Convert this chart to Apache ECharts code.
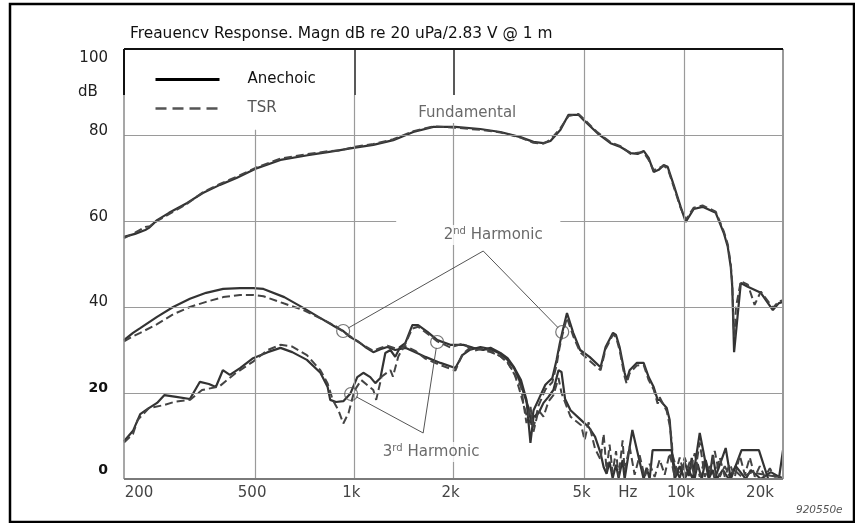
<!DOCTYPE html>
<html><head><meta charset="utf-8">
<style>html,body{margin:0;padding:0;background:#fff}#c{width:855px;height:523px}</style>
<script src="https://cdn.jsdelivr.net/npm/echarts@6/dist/echarts.min.js"></script>
</head><body><div id="c"></div>
<script>
// ---------- data (frequency in Hz, level in dB) ----------
const xTickValues = [200, 500, 1000, 2000, 5000, 6900, 10000, 20000];
const xTickLabels = ['200', '500', '1k', '2k', '5k', 'Hz', '10k', '20k'];
const yTickValues = [0, 20, 40, 60, 80, 100];
const yTickLabels = ['0', '20', '40', '60', '80', '100'];

const fundAnechoic = [[200,56.3],[216,57.0],[232,57.9],[238,58.4],[252,60.2],[274,61.9],[311,64.2],[347,66.5],[391,68.4],[439,70.0],[507,72.3],[597,74.2],[722,75.3],[830,76.0],[906,76.5],[993,77.0],[1142,77.7],[1313,78.8],[1510,80.7],[1737,81.9],[2024,81.9],[2410,81.4],[2776,80.7],[3193,79.5],[3497,78.4],[3750,78.1],[3938,78.6],[4224,81.2],[4467,84.7],[4791,84.7],[4963,83.5],[5472,80.4],[5993,78.1],[6427,77.2],[6896,75.8],[7241,75.6],[7553,76.3],[7822,74.7],[8100,71.4],[8389,71.9],[8687,73.0],[8934,72.6],[9316,68.4],[9783,63.3],[10134,59.8],[10720,62.8],[11400,63.3],[12500,61.9],[13223,57.2],[13596,54.0],[13884,49.3],[14030,44.7],[14210,29.5],[14894,45.6],[15640,44.7],[17130,43.3],[18630,39.3],[19430,40.9],[20000,41.2]];
const fundTSR = [[200,56.0],[216,57.3],[232,58.6],[240,58.8],[252,60.0],[274,61.6],[311,64.0],[347,66.7],[391,68.6],[439,70.3],[507,72.5],[597,74.5],[722,75.6],[830,76.2],[906,76.4],[993,77.2],[1142,77.9],[1313,79.0],[1510,80.9],[1737,82.0],[2024,81.7],[2410,81.2],[2776,80.6],[3193,79.4],[3497,78.2],[3750,78.0],[3938,78.9],[4224,81.6],[4467,84.4],[4791,84.9],[4963,83.8],[5472,80.6],[5993,78.3],[6427,77.4],[6896,75.6],[7241,75.9],[7553,76.0],[7822,74.2],[8100,71.8],[8389,72.3],[8687,72.8],[8934,72.2],[9316,68.0],[9783,63.0],[10134,60.3],[10720,63.1],[11400,63.6],[12500,62.2],[13223,57.6],[13596,54.6],[13884,50.0],[14030,45.5],[14150,36.0],[14250,33.0],[14400,40.0],[14894,46.0],[15640,45.2],[16400,40.5],[17130,43.6],[18630,39.8],[19430,41.3],[20000,41.6]];

const h2Anechoic = [[200,32.3],[213,34.0],[224,35.1],[252,37.7],[282,40.0],[317,41.9],[355,43.3],[400,44.2],[450,44.4],[493,44.4],[530,44.2],[613,42.3],[700,39.8],[778,37.7],[880,35.3],[926,34.4],[972,33.0],[1021,32.1],[1079,30.7],[1142,29.5],[1200,30.2],[1260,30.7],[1331,30.0],[1428,30.5],[1532,29.5],[1643,28.4],[1825,27.0],[2026,25.8],[2128,28.8],[2235,30.0],[2413,30.7],[2590,30.2],[2776,29.1],[2918,27.7],[3053,25.8],[3150,23.5],[3260,20.2],[3380,16.5],[3450,12.6],[3500,16.0],[3620,18.4],[3800,21.9],[3990,23.5],[4110,27.7],[4195,31.2],[4280,34.2],[4420,38.6],[4618,34.0],[4845,30.0],[5175,28.4],[5590,26.0],[5790,30.7],[6097,34.0],[6227,33.5],[6384,30.7],[6612,24.7],[6705,23.0],[6848,25.3],[7194,27.0],[7553,27.0],[7822,23.7],[8100,21.4],[8330,18.4],[8448,18.4],[8875,16.5],[9060,13.7],[9188,7.4],[9250,4.4],[9450,2.1],[9717,0.3],[10063,4.0],[10350,0.7],[10570,4.9],[10792,0.2],[11020,3.5],[11330,0],[11650,4.4],[11987,0.7],[12240,5.6],[12590,0],[13130,2.1],[13690,0],[14380,3.0],[15420,0],[15970,2.1],[17130,0],[18370,1.6],[20000,0]];
const h2TSR = [[200,32.0],[213,33.2],[224,34.0],[252,36.0],[282,38.3],[317,40.0],[355,41.2],[400,42.3],[450,42.8],[493,42.8],[530,42.5],[613,40.8],[700,39.3],[778,37.6],[880,35.5],[926,34.2],[972,33.2],[1021,32.0],[1079,30.9],[1142,29.8],[1200,30.5],[1260,31.0],[1331,30.4],[1428,30.9],[1532,29.8],[1643,28.0],[1825,26.5],[2026,25.2],[2128,29.0],[2235,30.4],[2413,30.2],[2590,29.5],[2776,28.6],[2918,27.0],[3053,24.8],[3150,21.5],[3260,17.5],[3380,13.0],[3450,15.0],[3500,12.0],[3620,17.0],[3800,20.8],[3990,22.5],[4110,26.5],[4195,30.5],[4280,33.5],[4420,37.5],[4618,33.2],[4845,29.5],[5175,27.5],[5590,25.3],[5790,30.2],[6097,33.6],[6227,33.0],[6384,30.0],[6612,23.8],[6705,22.2],[6848,24.6],[7194,26.4],[7553,26.5],[7822,23.0],[8100,20.8],[8330,17.5],[8448,19.0],[8875,15.8],[9060,12.5],[9188,9.0],[9250,5.5],[9450,3.0],[9717,1.0],[10063,5.0],[10421,1.5],[10792,6.0],[11177,0.5],[11575,4.5],[11987,1.0],[12414,6.5],[12857,0.5],[13315,3.0],[13789,0.5],[14281,2.0],[15000,0.5],[16000,1.5],[20000,0.3]];

const h3Anechoic = [[200,8.8],[213,11.2],[224,15.1],[236,16.3],[252,17.7],[265,19.5],[288,19.1],[317,18.6],[340,22.6],[362,22.1],[380,21.4],[399,25.3],[419,24.2],[450,25.8],[493,28.1],[546,29.5],[597,30.5],[648,29.5],[718,27.7],[789,24.7],[830,21.4],[845,18.4],[880,17.9],[926,18.1],[972,19.8],[1021,23.7],[1065,24.7],[1118,23.7],[1158,22.3],[1200,23.5],[1242,29.3],[1287,30.0],[1331,28.4],[1378,30.7],[1428,31.6],[1500,35.8],[1562,35.8],[1667,34.2],[1787,32.3],[1956,31.2],[2143,31.2],[2298,30.5],[2465,30.0],[2590,30.5],[2776,29.3],[2918,28.1],[3053,26.0],[3205,23.0],[3330,18.4],[3424,8.4],[3497,14.4],[3623,15.3],[3751,17.7],[3883,19.1],[4020,20.7],[4166,25.3],[4254,24.9],[4362,18.6],[4530,16.0],[4880,13.7],[5140,12.1],[5380,9.8],[5590,6.0],[5710,2.8],[5830,1.2],[5953,4.0],[6080,0.2],[6227,3.3],[6340,0.2],[6520,4.4],[6612,0],[6980,11.4],[7553,0],[7710,2.6],[7877,0],[8040,6.7],[9188,6.7],[9382,0],[9717,3.0],[10063,0],[10350,2.1],[10650,0],[11177,10.7],[11900,0],[12240,2.1],[12414,0],[13400,7.2],[13884,0],[14970,6.7],[16900,6.7],[18040,0],[19430,0],[20000,6.7]];
const h3TSR = [[200,8.5],[213,10.5],[220,13.7],[238,16.5],[265,17.2],[286,18.0],[317,18.4],[345,20.7],[389,21.5],[436,24.6],[493,27.3],[546,30.0],[597,31.2],[648,30.8],[718,28.8],[789,25.3],[830,22.2],[860,18.4],[895,16.0],[926,12.9],[960,15.3],[1000,20.5],[1050,23.0],[1142,20.7],[1165,18.4],[1210,23.8],[1287,25.3],[1310,23.8],[1360,28.5],[1420,31.0],[1500,35.0],[1562,35.4],[1667,33.8],[1787,32.0],[1956,30.6],[2143,31.5],[2298,29.8],[2465,30.4],[2590,29.8],[2776,28.5],[2918,27.2],[3053,24.5],[3205,21.5],[3330,13.0],[3424,17.0],[3497,11.0],[3623,16.0],[3751,14.5],[3883,18.0],[4020,19.5],[4166,23.5],[4254,20.0],[4362,17.8],[4530,14.5],[4880,12.5],[5000,9.0],[5140,13.2],[5380,7.0],[5590,4.5],[5710,10.5],[5830,2.0],[5953,8.0],[6080,1.5],[6227,6.5],[6340,0.5],[6520,9.0],[6612,2.0],[6848,7.5],[7092,1.0],[7344,5.5],[7606,0.5],[7877,3.5],[8157,0.5],[8448,4.5],[8749,1.0],[9060,6.0],[9382,0.5],[9717,5.0],[10063,0.5],[10421,4.0],[10792,1.0],[11177,8.5],[11575,0.5],[11987,3.0],[12414,0.5],[12857,5.0],[13315,0.5],[13789,3.5],[14281,0.5],[14789,5.5],[15316,1.0],[15861,5.0],[16425,0.5],[17010,3.0],[17615,0.5],[18243,2.5],[18893,0.5],[20000,0.5]];

// ---------- layout / style ----------
const FONT = '"DejaVu Sans", "Liberation Sans", Arial, sans-serif';
const GRID = {left:124, right:72, top:49, bottom:44};
const pxPerDb = (523 - GRID.top - GRID.bottom) / 100;
const yLabelShiftPx = [9, 5, 5, 4, 4, -9];
const GRAY = '#9a9a9a';
const CURVE = '#333';
const NOFILL = 'rgba(0,0,0,0)';

function nearest(arr, v, log) {
  let best = 0, bd = Infinity;
  arr.forEach((a, i) => { const d = log ? Math.abs(Math.log(a) - Math.log(v)) : Math.abs(a - v); if (d < bd) { bd = d; best = i; } });
  return best;
}

function seg(x1, y1, x2, y2, color, width) {
  return [{coord:[x1, y1], lineStyle:{color:color, width:width, type:'solid'}}, {coord:[x2, y2]}];
}
const gridSegs = [
  seg(200,20,20000,20,GRAY,1.2),
  seg(200,40,20000,40,GRAY,1.2),
  seg(200,60,1340,60,GRAY,1.2),
  seg(4220,60,20000,60,GRAY,1.2),
  seg(200,80,20000,80,GRAY,1.2),
  seg(500,0,500,81.2,GRAY,1.2),
  seg(1000,0,1000,89.3,GRAY,1.2),
  seg(2000,0,2000,82.8,GRAY,1.2),
  seg(5000,0,5000,100,GRAY,1.2),
  seg(10000,0,10000,100,GRAY,1.2),
  seg(20000,0,20000,100,'#999',2),
  seg(200,0,200,89.3,'#8a8a8a',1.5),
  seg(200,0,20000,0,'#7a7a7a',2),
  seg(200,89.3,200,100,'#111',2),
  seg(1000,89.3,1000,100,'#222',1.5),
  seg(2000,89.3,2000,100,'#222',1.5),
  seg(200,100,20000,100,'#111',2)
];

const ANN = '#555';
const annLines = [
  seg(959,35.12,2462,53.02,ANN,1),
  seg(2462,53.02,4153,35.19,ANN,1),
  seg(1015,19.09,1618,10.70,ANN,1),
  seg(1618,10.70,1773,30.49,ANN,1)
];
const annCircles = [[925,34.42],[978,19.77],[1784,31.86],[4276,34.19]];
const annTexts = [
  {value:[2201,85.12], text:'{n|Fundamental}'},
  {value:[2640,56.74], text:'{n|2}{s|nd}{n| Harmonic}'},
  {value:[1711,6.28], text:'{n|3}{s|rd}{n| Harmonic}'}
];

const chart = echarts.init(document.getElementById('c'), null, {renderer:'canvas'});
const lineBase = {type:'line', symbol:'none', showSymbol:false, smooth:false, z:3, silent:true, animation:false};

chart.setOption({
  backgroundColor:'#fff',
  animation:false,
  title:{text:'Freauencv Response. Magn dB re 20 uPa/2.83 V @ 1 m', left:130, top:26, padding:0,
    textStyle:{fontFamily:FONT, fontSize:15.4, fontWeight:'normal', color:'#111'}},
  grid:{left:GRID.left, right:GRID.right, top:GRID.top, bottom:GRID.bottom, containLabel:false},
  legend:{orient:'vertical', left:154, top:72, padding:0, itemWidth:64, itemHeight:16, itemGap:14,
    data:[
      {name:'Anechoic', textStyle:{color:'#111'}, itemStyle:{color:NOFILL, borderColor:NOFILL, borderWidth:0}, lineStyle:{color:'#000', width:3, type:'solid'}},
      {name:'TSR', textStyle:{color:'#555'}, itemStyle:{color:NOFILL, borderColor:NOFILL, borderWidth:0}, lineStyle:{color:'#555', width:2.5, type:[11,6]}}
    ],
    textStyle:{fontFamily:FONT, fontSize:15, padding:[0,0,0,23]}},
  xAxis:{type:'log', logBase:10, min:200, max:20000,
    axisLine:{show:false}, axisTick:{show:false}, splitLine:{show:false}, minorSplitLine:{show:false},
    axisLabel:{show:true, customValues:xTickValues, margin:7, color:'#444', fontFamily:FONT, fontSize:15,
      formatter:function(v){ const i = nearest(xTickValues, v, true); const k = i===0 ? 'f' : (i===xTickValues.length-1 ? 'l' : 'm'); return '{' + k + '|' + xTickLabels[i] + '}'; },
      rich:{
        f:{fontFamily:FONT, fontSize:15, color:'#444', padding:[0,0,0,30]},
        m:{fontFamily:FONT, fontSize:15, color:'#444', padding:[0,6,0,0]},
        l:{fontFamily:FONT, fontSize:15, color:'#444', padding:[0,46,0,0]}
      }}},
  yAxis:{type:'value', min:0, max:100, interval:20,
    axisLine:{show:false}, axisTick:{show:false}, splitLine:{show:false},
    axisLabel:{show:true, margin:16, customValues:yTickValues.map((v,i)=>v + yLabelShiftPx[i]/pxPerDb),
      formatter:function(v){ const i = nearest(yTickValues, v, false); return (yTickValues[i] <= 20 ? '{b|' : '{r|') + yTickLabels[i] + '}'; },
      rich:{
        r:{fontFamily:FONT, fontSize:15, color:'#222'},
        b:{fontFamily:FONT, fontSize:14, color:'#111', fontWeight:'bold'}
      }}},
  graphic:[
    {type:'rect', shape:{x:10, y:4, width:844, height:518}, style:{fill:'none', stroke:'#000', lineWidth:2.5}, silent:true},
    {type:'text', left:78, top:85, style:{text:'dB', fontFamily:FONT, fontSize:15, fill:'#222'}, silent:true},
    {type:'text', left:796, top:505, style:{text:'920550e', fontFamily:FONT, fontSize:10.5, fontStyle:'italic', fill:'#555'}, silent:true}
  ],
  series:[
    {type:'line', name:'grid', data:[], z:1, silent:true, symbol:'none',
      markLine:{silent:true, symbol:['none','none'], label:{show:false}, animation:false, data:gridSegs}},
    Object.assign({}, lineBase, {name:'Anechoic', data:fundAnechoic, itemStyle:{color:CURVE}, lineStyle:{color:CURVE, width:2.2}}),
    Object.assign({}, lineBase, {name:'TSR', data:fundTSR, itemStyle:{color:'#444'}, lineStyle:{color:'#444', width:2, type:[8,4]}}),
    Object.assign({}, lineBase, {name:'Anechoic', data:h2Anechoic, itemStyle:{color:CURVE}, lineStyle:{color:CURVE, width:2.2}}),
    Object.assign({}, lineBase, {name:'TSR', data:h2TSR, itemStyle:{color:'#444'}, lineStyle:{color:'#444', width:2, type:[8,4]}}),
    Object.assign({}, lineBase, {name:'Anechoic', data:h3Anechoic, itemStyle:{color:CURVE}, lineStyle:{color:CURVE, width:2.2}}),
    Object.assign({}, lineBase, {name:'TSR', data:h3TSR, itemStyle:{color:'#444'}, lineStyle:{color:'#444', width:2, type:[8,4]}}),
    {type:'line', name:'annot', data:[], z:4, silent:true, symbol:'none',
      markLine:{silent:true, symbol:['none','none'], label:{show:false}, animation:false, data:annLines}},
    {type:'scatter', name:'circles', data:annCircles, z:5, silent:true, symbol:'circle', symbolSize:13,
      itemStyle:{color:NOFILL, borderColor:ANN, borderWidth:1.2}},
    {type:'scatter', name:'labels', z:6, silent:true, symbolSize:1, itemStyle:{color:NOFILL},
      data:annTexts.map(a=>({value:a.value, label:{formatter:a.text}})),
      label:{show:true, position:'inside', backgroundColor:'#fff', padding:[1,3],
        rich:{
          n:{fontFamily:FONT, fontSize:15, color:'#444', lineHeight:18},
          s:{fontFamily:FONT, fontSize:10, color:'#444', lineHeight:18, verticalAlign:'top'}
        }}}
  ]
});
</script></body></html>
